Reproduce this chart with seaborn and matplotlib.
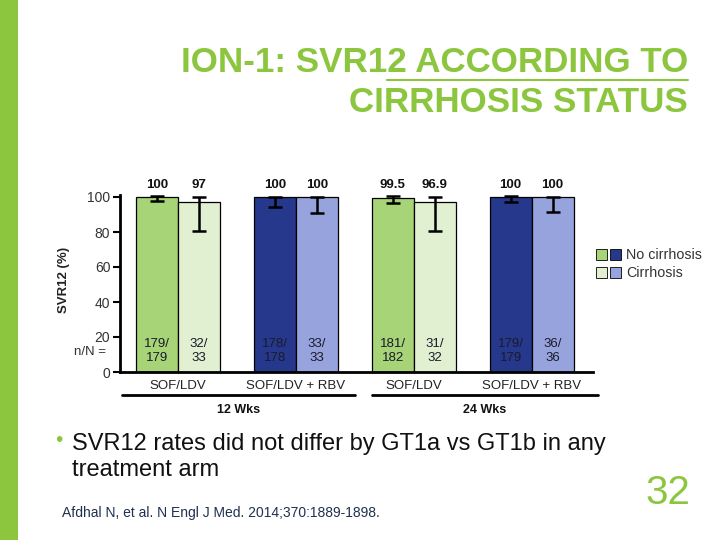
import matplotlib
matplotlib.use("Agg")
import matplotlib.pyplot as plt
import seaborn as sns
import pandas as pd
from matplotlib.patches import Rectangle, Patch
from matplotlib.legend_handler import HandlerTuple
import matplotlib.transforms as mtransforms

# ---------------- data ----------------
arm_ids = ["12w SOF/LDV", "12w SOF/LDV + RBV", "24w SOF/LDV", "24w SOF/LDV + RBV"]
arm_labels = ["SOF/LDV", "SOF/LDV + RBV", "SOF/LDV", "SOF/LDV + RBV"]
durations = ["12 Wks", "24 Wks"]
statuses = ["No cirrhosis", "Cirrhosis"]

svr_no_cirr = [100, 100, 99.5, 100]
svr_cirr = [97, 100, 96.9, 100]
lbl_no_cirr = ["100", "100", "99.5", "100"]
lbl_cirr = ["97", "100", "96.9", "100"]
n_no_cirr = ["179/\n179", "178/\n178", "181/\n182", "179/\n179"]
n_cirr = ["32/\n33", "33/\n33", "31/\n32", "36/\n36"]
ci_lo_no_cirr = [97.5, 94.5, 96.5, 97.0]
ci_hi_no_cirr = [100.5, 100.0, 100.5, 100.5]
ci_lo_cirr = [80.5, 91.0, 80.5, 91.5]
ci_hi_cirr = [100.0, 100.0, 100.0, 100.0]

title_line1 = "ION-1: SVR12 ACCORDING TO"
title_line2 = "CIRRHOSIS STATUS"
bullet_text = "SVR12 rates did not differ by GT1a vs GT1b in any\ntreatment arm"
citation = "Afdhal N, et al. N Engl J Med. 2014;370:1889-1898."
page_no = "32"

# ---------------- style ----------------
GREEN_T = "#8cc63f"
colors = {
    "No cirrhosis": ["#a8d478", "#26388c", "#a8d478", "#26388c"],
    "Cirrhosis": ["#e2f0d2", "#97a3dd", "#e2f0d2", "#97a3dd"],
}

sns.set_theme(style="white")
plt.rcParams["font.family"] = ["Liberation Sans", "DejaVu Sans"]

df = pd.DataFrame({
    "arm": arm_ids * 2,
    "status": [statuses[0]] * 4 + [statuses[1]] * 4,
    "svr": svr_no_cirr + svr_cirr,
})

fig = plt.figure(figsize=(7.2, 5.4), dpi=100)
fig.patch.set_facecolor("white")
W, H = 720, 540
ax = fig.add_axes([120 / W, (H - 372) / H, 473 / W, 176.75 / H])

sns.barplot(data=df, x="arm", y="svr", hue="status", order=arm_ids,
            hue_order=statuses, width=0.712, dodge=True, gap=0,
            palette=["#a8d478", "#e2f0d2"], edgecolor="black", linewidth=0.9,
            errorbar=None, legend=False, ax=ax)

lo = {statuses[0]: ci_lo_no_cirr, statuses[1]: ci_lo_cirr}
hi = {statuses[0]: ci_hi_no_cirr, statuses[1]: ci_hi_cirr}
vals = {statuses[0]: svr_no_cirr, statuses[1]: svr_cirr}
lbls = {statuses[0]: lbl_no_cirr, statuses[1]: lbl_cirr}
nlbl = {statuses[0]: n_no_cirr, statuses[1]: n_cirr}

for st, cont in zip(statuses, ax.containers):
    for i, bar in enumerate(cont):
        bar.set_facecolor(colors[st][i])
        xc = bar.get_x() + bar.get_width() / 2
        v = vals[st][i]
        ax.errorbar([xc], [v], yerr=[[v - lo[st][i]], [hi[st][i] - v]],
                    fmt="none", ecolor="black", elinewidth=1.8, capsize=5,
                    capthick=1.8, zorder=5)
        ax.text(xc, 107, lbls[st][i], ha="center", va="center",
                fontsize=9.5, fontweight="bold", color="#111111", clip_on=False)
        ax.text(xc, 12, nlbl[st][i], ha="center", va="center", fontsize=9.5,
                color="#1a1a2a", linespacing=1.3)

ax.set_ylim(0, 101)
ax.set_xlim(-0.49, 3.52)
ax.set_yticks([0, 20, 40, 60, 80, 100])
ax.set_xticks(range(4))
ax.set_xticklabels(arm_labels, fontsize=9.5, color="#222222")
ax.set_xticks([1.52, 3.52], minor=True)
ax.tick_params(axis="x", which="major", length=0, pad=6)
ax.tick_params(axis="x", which="minor", length=6, width=1.5, direction="inout", color="black")
ax.tick_params(axis="y", length=5, width=1.5, direction="out", color="black",
               labelsize=10, labelcolor="#333333", pad=2, left=True)
ax.set_xlabel("")
ax.set_ylabel("SVR12 (%)", fontsize=9.5, fontweight="bold", color="#222222")
ax.yaxis.set_label_coords(-0.106, 0.52)
for s in ["top", "right"]:
    ax.spines[s].set_visible(False)
for s in ["left", "bottom"]:
    ax.spines[s].set_linewidth(2)
    ax.spines[s].set_color("black")

# group brackets
trans = mtransforms.blended_transform_factory(ax.transData, ax.transAxes)
spans = [(-0.475, 1.5), (1.644, 3.56)]
for (a, b), d in zip(spans, durations):
    ax.plot([a, b], [-0.13, -0.13], transform=trans, color="black", lw=2, clip_on=False)
    ax.text((a + b) / 2, -0.215, d, transform=trans, ha="center", va="center",
            fontsize=9, fontweight="bold", color="#111111")

fig.text(106 / W, 1 - 352 / H, "n/N =", ha="right", va="center", fontsize=9.5, color="#333333")

# legend
handles = [(Patch(facecolor=colors["No cirrhosis"][0], edgecolor="black", lw=0.6),
            Patch(facecolor=colors["No cirrhosis"][1], edgecolor="black", lw=0.6)),
           (Patch(facecolor=colors["Cirrhosis"][0], edgecolor="black", lw=0.6),
            Patch(facecolor=colors["Cirrhosis"][1], edgecolor="black", lw=0.6))]
fig.legend(handles, statuses, handler_map={tuple: HandlerTuple(ndivide=None, pad=0.15)},
           loc="upper left", bbox_to_anchor=(596 / W, 1 - 248 / H), frameon=False,
           fontsize=10.3, handlelength=1.75, handleheight=0.8, handletextpad=0.35,
           labelspacing=0.3, borderpad=0, borderaxespad=0, labelcolor="#333333")

# title
tfont = dict(fontsize=25.2, fontweight="bold", color=GREEN_T,
             family=["Liberation Sans Narrow", "Liberation Sans", "DejaVu Sans"])
t1 = fig.text(688 / W, 1 - 62 / H, title_line1, ha="right", va="center", **tfont)
fig.text(688 / W, 1 - 103 / H, title_line2, ha="right", va="center", **tfont)
fig.canvas.draw()
r = fig.canvas.get_renderer()
bb = t1.get_window_extent(r)
tmp = fig.text(0, 0, title_line1[:title_line1.index("2 A")], **tfont)
wpre = tmp.get_window_extent(r).width
tmp.remove()
x0 = (bb.x0 + wpre) / fig.bbox.width
x1 = bb.x1 / fig.bbox.width
fig.add_artist(plt.Line2D([x0, x1], [1 - 80 / H, 1 - 80 / H], color=GREEN_T, lw=1.5))

# left strip
fig.add_artist(Rectangle((0, 0), 18 / W, 1, transform=fig.transFigure,
                         facecolor=GREEN_T, edgecolor="none"))

# bullet + footer
fig.text(55 / W, 1 - 441 / H, "•", ha="left", va="center", fontsize=15, color=GREEN_T)
fig.text(72 / W, 1 - 457 / H, bullet_text, ha="left", va="center", fontsize=17,
         color="#111111", linespacing=1.2)
fig.text(62 / W, 1 - 513 / H, citation, ha="left", va="center", fontsize=10, color="#1f3050")
fig.text(690 / W, 1 - 493 / H, page_no, ha="right", va="center", fontsize=29,
         color=GREEN_T, family=["Liberation Sans Narrow", "Liberation Sans", "DejaVu Sans"])

fig.savefig("out.png", dpi=100, facecolor="white")
